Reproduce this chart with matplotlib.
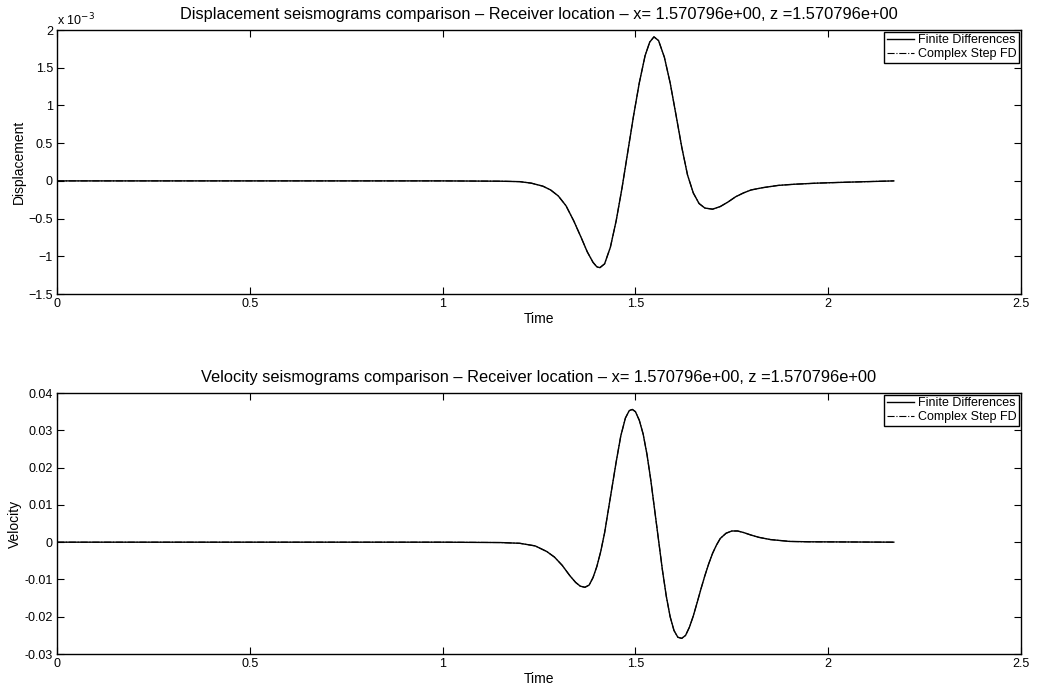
import numpy as np
import matplotlib
matplotlib.use("Agg")
import matplotlib.pyplot as plt

plt.rcParams["font.family"] = ["Liberation Sans", "DejaVu Sans"]

# ── Data ──────────────────────────────────────────────────────────────────────
# displacement (units of 1e-3)
t_disp = [0.0, 1.0, 1.15, 1.20, 1.23, 1.26, 1.28, 1.30, 1.32, 1.34, 1.36, 1.375,
          1.39, 1.40, 1.408, 1.42, 1.435, 1.45, 1.465, 1.48, 1.495, 1.51, 1.525,
          1.537, 1.548, 1.56, 1.575, 1.59, 1.605, 1.62, 1.635, 1.65, 1.665, 1.68,
          1.70, 1.72, 1.74, 1.76, 1.78, 1.80, 1.83, 1.87, 1.91, 1.97, 2.03, 2.10,
          2.17]
fd_disp = [0.0, 0.0, -0.004, -0.01, -0.03, -0.07, -0.12, -0.20, -0.33, -0.53,
           -0.76, -0.94, -1.08, -1.14, -1.15, -1.10, -0.88, -0.53, -0.10, 0.38,
           0.86, 1.30, 1.66, 1.84, 1.91, 1.86, 1.64, 1.30, 0.88, 0.45, 0.08,
           -0.16, -0.30, -0.36, -0.375, -0.34, -0.28, -0.21, -0.16, -0.12, -0.09,
           -0.06, -0.045, -0.03, -0.02, -0.01, 0.0]
cs_disp = list(fd_disp)

# velocity
t_vel = [0.0, 1.0, 1.15, 1.20, 1.24, 1.27, 1.29, 1.31, 1.33, 1.345, 1.357, 1.369,
         1.38, 1.39, 1.40, 1.41, 1.42, 1.435, 1.45, 1.462, 1.474, 1.484, 1.492,
         1.50, 1.51, 1.52, 1.53, 1.54, 1.55, 1.56, 1.57, 1.58, 1.59, 1.60, 1.61,
         1.62, 1.63, 1.64, 1.65, 1.66, 1.67, 1.68, 1.69, 1.70, 1.71, 1.72, 1.735,
         1.75, 1.765, 1.78, 1.80, 1.82, 1.85, 1.90, 1.95, 2.17]
fd_vel = [0.0, 0.0, -0.0001, -0.0003, -0.0010, -0.0025, -0.0040, -0.0062, -0.0090,
          -0.0108, -0.0118, -0.0121, -0.0115, -0.0095, -0.0065, -0.0025, 0.0025,
          0.0120, 0.0215, 0.0285, 0.0333, 0.0353, 0.0356, 0.0350, 0.0327, 0.0290,
          0.0235, 0.0165, 0.0085, 0.0005, -0.0075, -0.0145, -0.0200, -0.0237,
          -0.0255, -0.0258, -0.0250, -0.0228, -0.0198, -0.0162, -0.0125, -0.0090,
          -0.0058, -0.0030, -0.0008, 0.0010, 0.0024, 0.0030, 0.0030, 0.0026,
          0.0019, 0.0013, 0.0007, 0.0002, 0.0001, 0.0]
cs_vel = list(fd_vel)

labels = ["Finite Differences", "Complex Step FD"]
x_ticks = [0, 0.5, 1, 1.5, 2, 2.5]
x_ticklabels = ["0", "0.5", "1", "1.5", "2", "2.5"]
disp_ticks = [-1.5, -1, -0.5, 0, 0.5, 1, 1.5, 2]
disp_ticklabels = ["\u22121.5", "\u22121", "\u22120.5", "0", "0.5", "1", "1.5", "2"]
vel_ticks = [-0.03, -0.02, -0.01, 0, 0.01, 0.02, 0.03, 0.04]
vel_ticklabels = ["-0.03", "-0.02", "-0.01", "0", "0.01", "0.02", "0.03", "0.04"]

loc_txt = "Receiver location \u2013 x= 1.570796e+00, z =1.570796e+00"

fig = plt.figure(figsize=(10.4, 6.91), dpi=100)
ax1 = fig.add_axes([0.0548, 0.5745, 0.927, 0.382])
ax2 = fig.add_axes([0.0548, 0.0535, 0.927, 0.3777])


def style(ax):
    ax.tick_params(direction="in", top=True, right=True, length=5, width=0.8,
                   labelsize=9, pad=3)
    for s in ax.spines.values():
        s.set_linewidth(1.0)
    ax.set_xlim(0, 2.5)
    ax.set_xticks(x_ticks)
    ax.set_xticklabels(x_ticklabels)
    ax.set_xlabel("Time", fontsize=10, labelpad=1)
    leg = ax.legend(loc="upper right", fontsize=9, handlelength=2.2,
                    borderpad=0.2, labelspacing=0.15, handletextpad=0.3,
                    borderaxespad=0.15, fancybox=False, framealpha=1)
    leg.get_frame().set_edgecolor("black")
    leg.get_frame().set_linewidth(1.0)


ax1.plot(t_disp, fd_disp, color="black", lw=1.0, label=labels[0])
ax1.plot(t_disp, cs_disp, color="black", lw=0.8, ls="-.", label=labels[1])
ax1.set_ylim(-1.5, 2)
ax1.set_yticks(disp_ticks)
ax1.set_yticklabels(disp_ticklabels)
ax1.set_ylabel("Displacement", fontsize=10, labelpad=2)
ax1.set_title("Displacement seismograms comparison \u2013 " + loc_txt,
              fontsize=11.8, pad=8)
ax1.text(0.0, 1.005, "x 10$^{-3}$", transform=ax1.transAxes, fontsize=9,
         ha="left", va="bottom")
style(ax1)

ax2.plot(t_vel, fd_vel, color="black", lw=1.0, label=labels[0])
ax2.plot(t_vel, cs_vel, color="black", lw=0.8, ls="-.", label=labels[1])
ax2.set_ylim(-0.03, 0.04)
ax2.set_yticks(vel_ticks)
ax2.set_yticklabels(vel_ticklabels)
ax2.set_ylabel("Velocity", fontsize=10, labelpad=2)
ax2.set_title("Velocity seismograms comparison \u2013 " + loc_txt,
              fontsize=11.8, pad=8)
style(ax2)

fig.savefig("out.png", dpi=100)
